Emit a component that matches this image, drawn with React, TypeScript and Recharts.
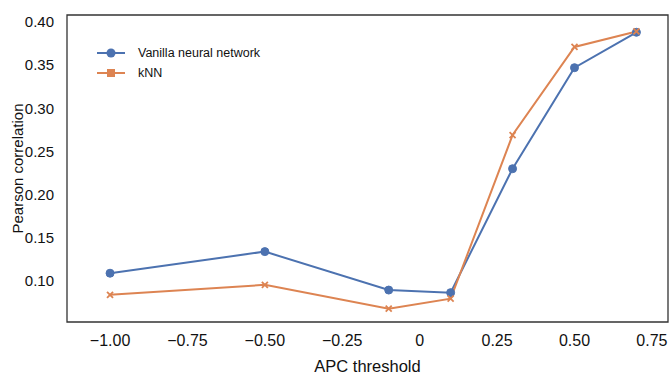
import {
  LineChart,
  Line,
  XAxis,
  YAxis,
  ReferenceArea,
} from "recharts";

const thresholds = [-1.0, -0.5, -0.1, 0.1, 0.3, 0.5, 0.7];
const vanilla = [0.109, 0.134, 0.0895, 0.0865, 0.23, 0.347, 0.388];
const knn = [0.084, 0.0955, 0.068, 0.0795, 0.269, 0.371, 0.389];
const xTicks = [-1.0, -0.75, -0.5, -0.25, 0, 0.25, 0.5, 0.75];
const yTicks = [0.1, 0.15, 0.2, 0.25, 0.3, 0.35, 0.4];

const data = thresholds.map((t, i) => ({
  apc: t,
  vanilla: vanilla[i],
  knn: knn[i],
}));

const BLUE = "#4c72b0";
const ORANGE = "#dd8452";
const FONT = "'Liberation Sans', Arial, sans-serif";
const X_DOMAIN = [-1.139, 0.802];
const Y_DOMAIN = [0.0525, 0.408];

const fmtX = (v: number) =>
  v === 0 ? "0" : (v < 0 ? "\u2212" : "") + Math.abs(v).toFixed(2);

const CrossDot = (props: any) => {
  const { cx, cy } = props;
  if (cx == null || cy == null) return null;
  const s = 3;
  return (
    <g stroke={ORANGE} strokeWidth={1.8}>
      <line x1={cx - s} y1={cy - s} x2={cx + s} y2={cy + s} />
      <line x1={cx - s} y1={cy + s} x2={cx + s} y2={cy - s} />
    </g>
  );
};

// legend drawn on top of the plot, top-left corner
const LegendBox = () => (
  <svg
    width={200}
    height={44}
    style={{ position: "absolute", left: 95, top: 43, fontFamily: FONT }}
  >
    <line x1={2} y1={10} x2={30} y2={10} stroke={BLUE} strokeWidth={2} />
    <circle cx={16} cy={10} r={4.5} fill={BLUE} />
    <text x={43} y={14} fontSize={12.5} fill="#111">
      Vanilla neural network
    </text>
    <line x1={2} y1={30} x2={30} y2={30} stroke={ORANGE} strokeWidth={2} />
    <rect x={12} y={26} width={8} height={8} fill={ORANGE} />
    <text x={43} y={34} fontSize={12.5} fill="#111">
      kNN
    </text>
  </svg>
);

export default function App() {
  return (
    <div
      style={{
        position: "absolute",
        left: 0,
        top: 0,
        width: 670,
        height: 375,
        background: "white",
      }}
    >
      <LineChart
        width={670}
        height={375}
        data={data}
        margin={{ top: 15, right: 2, bottom: 0, left: 0 }}
      >
        <XAxis
          dataKey="apc"
          type="number"
          domain={X_DOMAIN}
          ticks={xTicks}
          tickFormatter={fmtX}
          axisLine={false}
          tickLine={false}
          tickMargin={7}
          height={53}
          tick={{ fontSize: 16, fill: "#111", fontFamily: FONT }}
          label={{
            value: "APC threshold",
            position: "insideBottom",
            offset: 3,
            fontSize: 16.5,
            fill: "#111",
            fontFamily: FONT,
          }}
          allowDataOverflow
        />
        <YAxis
          type="number"
          domain={Y_DOMAIN}
          ticks={yTicks}
          tickFormatter={(v: number) => v.toFixed(2)}
          axisLine={false}
          tickLine={false}
          tickMargin={7}
          width={67}
          tick={{ fontSize: 15, fill: "#111", fontFamily: FONT }}
          label={{
            value: "Pearson correlation",
            angle: -90,
            position: "insideLeft",
            offset: 18,
            style: { textAnchor: "middle" },
            fontSize: 15,
            fill: "#111",
            fontFamily: FONT,
          }}
          allowDataOverflow
        />
        <ReferenceArea
          x1={X_DOMAIN[0]}
          x2={X_DOMAIN[1]}
          y1={Y_DOMAIN[0]}
          y2={Y_DOMAIN[1]}
          fill="none"
          stroke="#333"
          strokeWidth={1.3}
        />
        <Line
          dataKey="vanilla"
          stroke={BLUE}
          strokeWidth={2}
          dot={{ r: 4, fill: BLUE, stroke: BLUE, strokeWidth: 1 }}
          isAnimationActive={false}
        />
        <Line
          dataKey="knn"
          stroke={ORANGE}
          strokeWidth={2}
          dot={<CrossDot />}
          isAnimationActive={false}
        />
      </LineChart>
      <LegendBox />
    </div>
  );
}
